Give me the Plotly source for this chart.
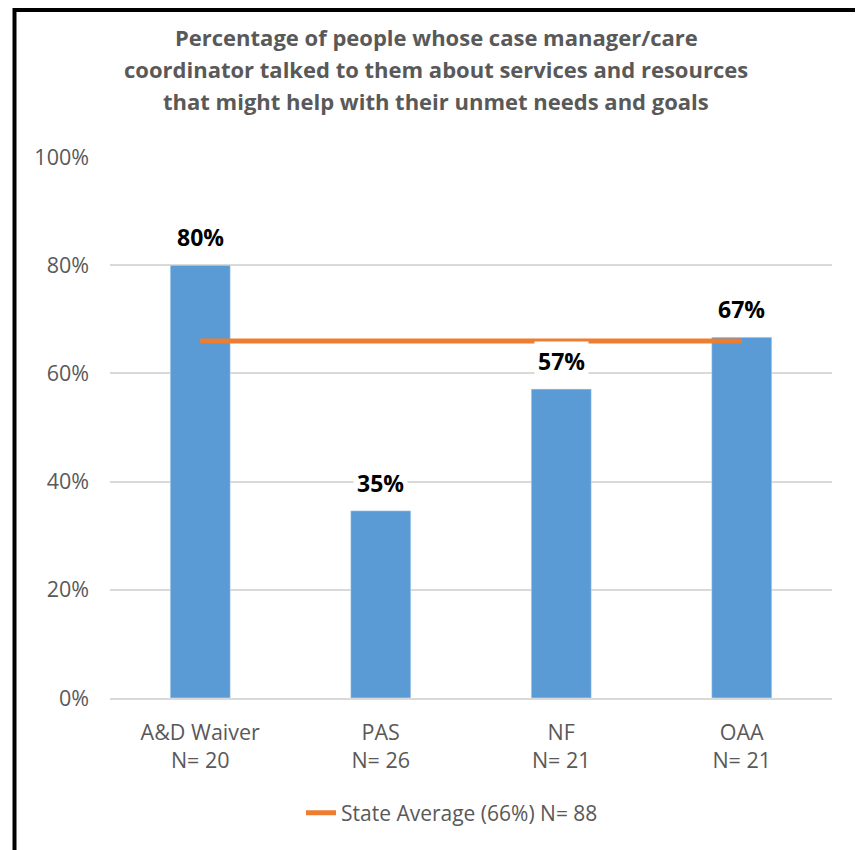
import plotly.graph_objects as go

categories = ["A&D Waiver<br>N= 20", "PAS<br>N= 26", "NF<br>N= 21", "OAA<br>N= 21"]
values = [80.0, 34.6, 57.1, 66.7]
state_avg = 66
legend_name = "State Average (66%) N= 88"
title_lines = [
    "Percentage of people whose case manager/care",
    "coordinator talked to them about services and resources",
    "that might help with their unmet needs and goals",
]
y_ticks = [0, 20, 40, 60, 80, 100]
y_tick_labels = ["0%", "20%", "40%", "60%", "80%", "100%"]

FONT = "Open Sans"
GRAY = "#595959"
W, H = 863, 850
ML, MR, MT, MB = 102, 39, 149, 160
pw, ph = W - ML - MR, H - MT - MB


def px_to_paper_x(px):
    return (px - ML) / pw


def px_to_paper_y(py):
    return (H - MB - py) / ph


fig = go.Figure()
fig.add_trace(go.Bar(
    x=categories, y=values, marker_color="#5B9BD5", width=0.333,
    showlegend=False, hoverinfo="skip",
))
fig.add_trace(go.Scatter(
    x=categories, y=[state_avg] * len(categories), mode="lines",
    line=dict(color="#ED7D31", width=5), name=legend_name,
))

annotations = []
for c, v in zip(categories, values):
    annotations.append(dict(
        x=c, y=v, xref="x", yref="y", text=f"<b>{v:.0f}%</b>",
        showarrow=False, yanchor="bottom", yshift=8,
        font=dict(family=FONT, size=23, color="#000000"),
        bgcolor="#FFFFFF", borderpad=3,
    ))

title_y = [29, 61, 93]
for t, yy in zip(title_lines, title_y):
    annotations.append(dict(
        x=px_to_paper_x(428), y=px_to_paper_y(yy), xref="paper", yref="paper",
        text=f"<b>{t}</b>",
        showarrow=False, xanchor="center", yanchor="middle",
        font=dict(family=FONT, size=22, color=GRAY),
    ))

fig.update_layout(
    width=W, height=H,
    margin=dict(l=ML, r=MR, t=MT, b=MB),
    paper_bgcolor="white", plot_bgcolor="white",
    font=dict(family=FONT, color=GRAY),
    annotations=annotations,
    showlegend=True,
    legend=dict(
        orientation="h", x=px_to_paper_x(293), xanchor="left",
        y=px_to_paper_y(805), yanchor="middle",
        font=dict(family=FONT, size=21, color=GRAY),
    ),
    bargap=0.667,
    shapes=[dict(
        type="rect", xref="paper", yref="paper",
        x0=px_to_paper_x(6.5), x1=px_to_paper_x(852),
        y0=px_to_paper_y(870), y1=px_to_paper_y(2),
        line=dict(color="black", width=4), fillcolor="rgba(0,0,0,0)",
        layer="above",
    )],
)
fig.update_xaxes(
    showgrid=False, showline=True, linecolor="#D9D9D9", linewidth=1.5,
    tickfont=dict(family=FONT, size=21.5, color=GRAY),
    ticks="", ticklabelstandoff=14,
)
fig.update_yaxes(
    range=[0, 100], tickvals=y_ticks, ticktext=y_tick_labels,
    showgrid=True, gridcolor="#D9D9D9", gridwidth=1.5,
    zeroline=False, showline=False,
    tickfont=dict(family=FONT, size=21.5, color=GRAY),
    ticks="", ticklabelstandoff=20,
)

fig.write_html("out.html")
